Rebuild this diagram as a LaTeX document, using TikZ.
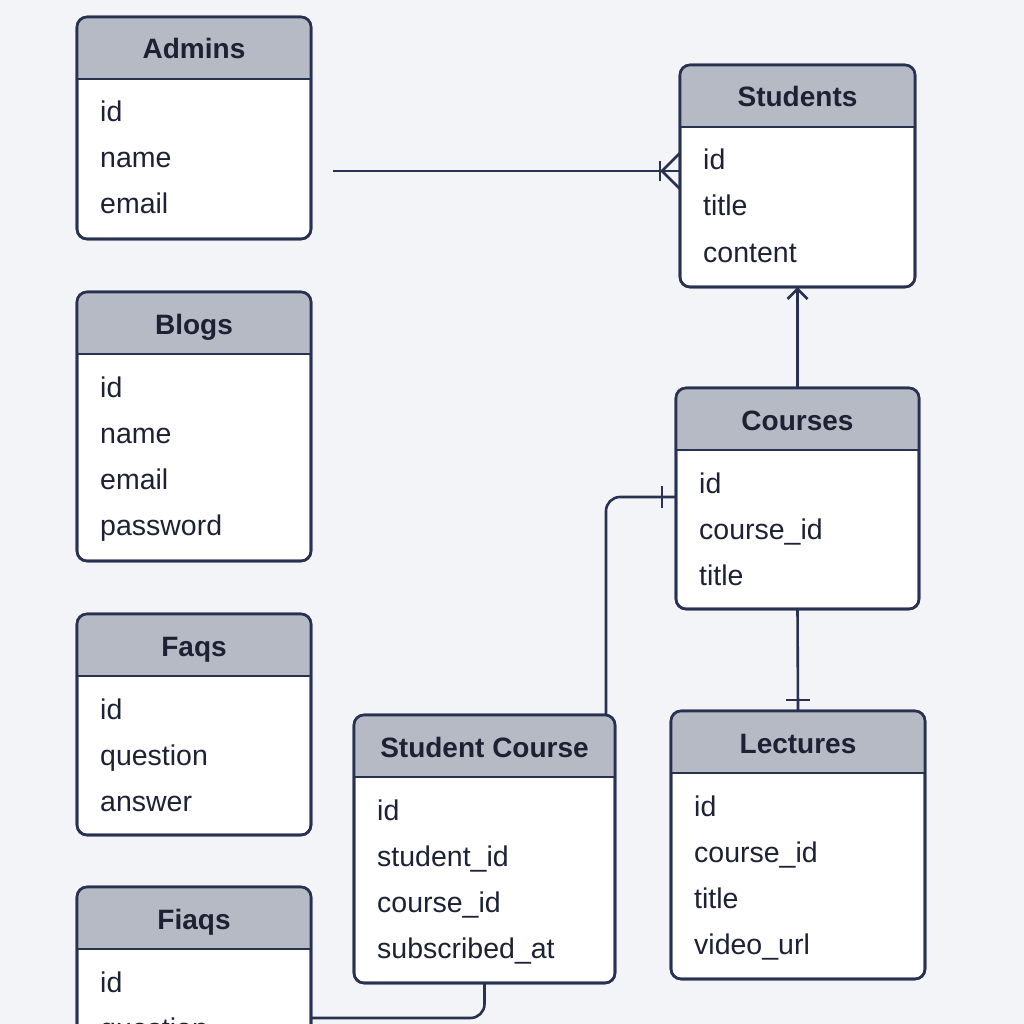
\documentclass[tikz,border=0pt]{standalone}
\usepackage{fontspec}
\setmainfont{Liberation Sans}
\usetikzlibrary{calc}
\definecolor{bgc}{HTML}{F2F4F8}
\definecolor{hdr}{HTML}{B5BAC5}
\definecolor{navy}{HTML}{283250}
\definecolor{ink}{HTML}{1C2233}
\tikzset{
  tblbox/.style={draw=navy, line width=2.6pt, fill=white, rounded corners=10pt, inner sep=0pt, outer sep=0pt},
  border/.style={draw=navy, line width=2.6pt},
  conn/.style={draw=navy, line width=2.6pt},
  hdrtext/.style={anchor=base, inner sep=0pt, text=ink, font=\fontsize{28}{33}\selectfont\bfseries},
  rowtext/.style={anchor=base west, inner sep=0pt, text=ink, font=\fontsize{28.5}{34}\selectfont},
}
% name, x, y, w, h, title, rows
\newcommand{\erbox}[7]{%
  \node[tblbox, minimum width=#4pt, minimum height=#5pt, anchor=north west] (#1) at (#2,#3) {};
  \begin{scope}
    \clip[rounded corners=10pt] (#1.north west) rectangle (#1.south east);
    \fill[hdr] (#1.north west) rectangle ([yshift=-62pt]#1.north east);
  \end{scope}
  \draw[border] ([yshift=-62pt]#1.north west) -- ([yshift=-62pt]#1.north east);
  \draw[border, rounded corners=10pt] (#1.north west) rectangle (#1.south east);
  \node[hdrtext] (#1-title) at ([yshift=-42pt]#1.north) {#6};
  \foreach \r [count=\i from 0] in {#7} {
    \node[rowtext] (#1-r\i) at (#2+23, #3+105+46*\i) {\r};
  }
}
\begin{document}
\begin{tikzpicture}[x=1pt, y=-1pt]
\useasboundingbox (0,0) rectangle (1024,1024);
\fill[bgc] (0,0) rectangle (1024,1024);
\begin{scope}
\clip (0,0) rectangle (1024,1024);

\erbox{admins}{77}{17}{234}{222}{Admins}{id,name,email}
\erbox{blogs}{77}{292}{234}{269}{Blogs}{id,name,email,password}
\erbox{faqs}{77}{614}{234}{221}{Faqs}{id,question,answer}
\erbox{fiaqs}{77}{887}{234}{222}{Fiaqs}{id,question}
\erbox{students}{680}{65}{235}{222}{Students}{id,title,content}
\erbox{courses}{676}{388}{243}{221}{Courses}{id,course\_id,title}
\erbox{lectures}{671}{711}{254}{268}{Lectures}{id,course\_id,title,video\_url}
\erbox{sc}{354}{715}{261}{268}{Student Course}{id,student\_id,course\_id,subscribed\_at}

% Admins area -> Students (crow's foot)
\coordinate (afree) at (333,171);
\coordinate (sin) at (afree -| students.west);
\draw[conn] (afree) -- (sin);
\draw[conn] ($(sin)+(-20,-10)$) -- ($(sin)+(-20,10)$);
\draw[conn] ($(sin)+(-18,0)$) -- ($(sin)+(0,-18)$);
\draw[conn] ($(sin)+(-18,0)$) -- ($(sin)+(0,18)$);

% Courses -> Students
\draw[conn] (courses.north) -- (students.south);
\draw[conn] ($(students.south)+(-10,12)$) -- ($(students.south)+(0,2)$) -- ($(students.south)+(10,12)$);

% Student Course -> Courses
\coordinate (cin) at ([yshift=-109pt]courses.north west);
\draw[conn, rounded corners=14pt] ([xshift=-9pt]sc.north east) |- (cin);
\draw[conn] ($(cin)+(-14,-11)$) -- ($(cin)+(-14,11)$);

% Courses -> Lectures
\draw[conn] (courses.south) -- (lectures.north);
\draw[conn] ($(lectures.north)+(-12,-11)$) -- ($(lectures.north)+(12,-11)$);

% Student Course -> Fiaqs
\coordinate (fin) at ([yshift=-131pt]fiaqs.north east);
\draw[conn, rounded corners=14pt] (sc.south) |- (fin);
\end{scope}
\end{tikzpicture}
\end{document}
